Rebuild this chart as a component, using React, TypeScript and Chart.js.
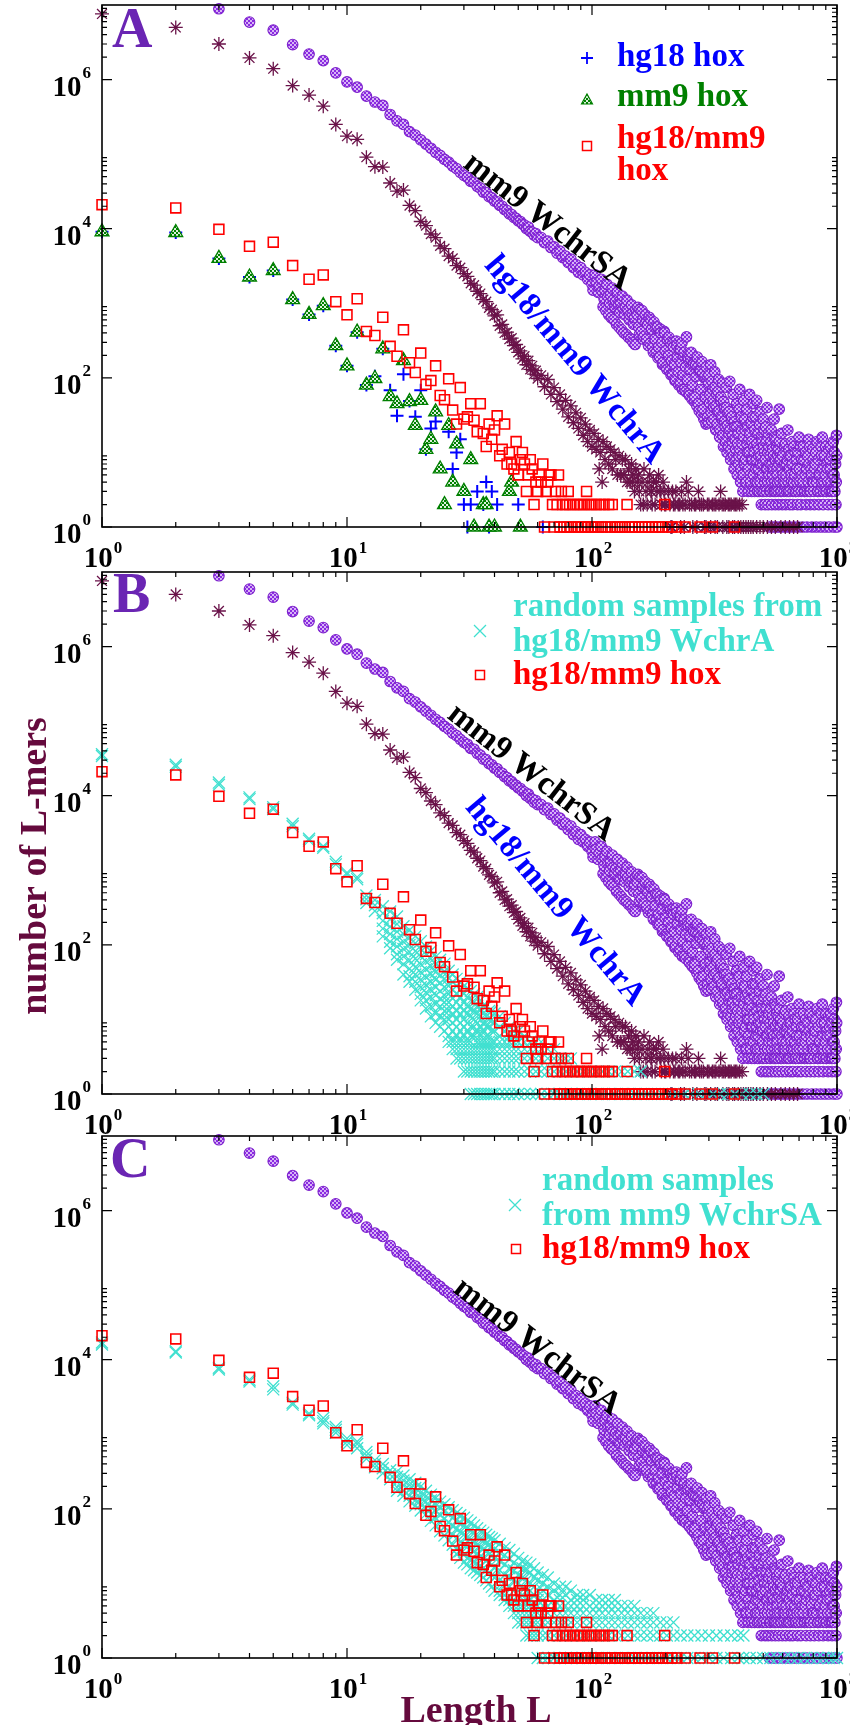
import React, { useEffect, useRef } from 'react';
import { Chart, registerables } from 'chart.js';

Chart.register(...registerables);

type Pt = [number, number];
type Col = [number, number[]];

// ---------------- axis ticks ----------------
const xTickExponents = [0, 1, 2, 3];
const yTickExponents = [0, 2, 4, 6];

// ---------------- series: [length L, number of L-mers] ----------------
const mm9WchrSA: Pt[] = [
  [3, 8.9e6], [4, 5.9e6], [5, 4.6e6], [6, 2.95e6], [7, 2.2e6], [8, 1.8e6], [9, 1.23e6], [10, 9.3e5],
  [11, 7.9e5], [12, 6.0e5], [13, 5.0e5], [14, 4.5e5], [15, 3.4e5], [16, 2.8e5], [17, 2.5e5], [18, 2.0e5],
  [19, 1.8e5], [20, 1.55e5], [21, 1.36e5], [22, 1.2e5], [23, 1.06e5], [24, 9.6e4], [25, 8.5e4], [26, 7.8e4],
  [27, 6.9e4], [28, 6.4e4], [29, 5.7e4], [30, 5.2e4], [31, 4.9e4], [32, 4.3e4], [33, 4.2e4], [34, 3.7e4],
  [35, 3.5e4], [36, 3.1e4], [37, 3.05e4], [38, 2.7e4], [39, 2.6e4], [40, 2.35e4], [41, 2.3e4], [42, 2.05e4],
  [43, 2.0e4], [44, 1.8e4], [45, 1.75e4], [46, 1.58e4], [47, 1.55e4], [48, 1.42e4], [49, 1.38e4], [50, 1.27e4],
  [51, 1.25e4], [52, 1.15e4], [53, 1.12e4], [54, 1.0e4], [55, 1.05e4], [56, 9200], [57, 9000], [58, 8200],
  [59, 8600], [60, 7600], [62, 7600], [64, 6500], [66, 6800], [68, 5600], [70, 5700], [72, 4700], [74, 5000],
  [76, 4100], [78, 4300], [80, 3500], [82, 3900], [84, 3000], [86, 3300], [88, 2600], [90, 3000], [92, 2400],
  [94, 2600], [96, 2100], [98, 2400], [100, 1800], [101, 1500], [103, 2400], [104, 1900], [106, 1400],
  [107, 1700], [109, 2100], [110, 1450], [111, 900], [112, 1150], [113, 1500], [114, 800], [115, 1800],
  [116, 1250], [117, 700], [118, 1000], [119, 1300], [120, 640], [121, 1600], [122, 1100], [123, 600],
  [124, 900], [125, 1050], [126, 520], [127, 1400], [128, 950], [129, 480], [130, 760], [131, 1000],
  [132, 440], [133, 1250], [134, 850], [135, 400], [136, 700], [137, 900], [138, 380], [139, 1100],
  [140, 800], [141, 350], [142, 600], [143, 700], [144, 330], [145, 950], [146, 720], [147, 300], [148, 520],
  [149, 640], [150, 280], [151, 820],
  [153, 700], [154, 880], [155, 480], [156, 380], [157, 820], [159, 420], [160, 800], [161, 600], [162, 330],
  [163, 360], [165, 700], [166, 560], [167, 330], [169, 520], [170, 270], [171, 650], [173, 290], [174, 600],
  [175, 450], [177, 260], [178, 220], [179, 560], [181, 330], [182, 480], [183, 220], [185, 480], [186, 185],
  [187, 260], [189, 190], [190, 450], [191, 400], [193, 300], [194, 150], [195, 160], [197, 420], [198, 400],
  [199, 230], [201, 140], [202, 130], [203, 330], [205, 200], [206, 350], [207, 125], [209, 300], [210, 110],
  [211, 170], [213, 110], [214, 300], [215, 260], [217, 150], [218, 92], [219, 95], [221, 310], [222, 270],
  [223, 190], [225, 120], [226, 80], [227, 240], [229, 85], [230, 240], [231, 160], [233, 295], [234, 70],
  [235, 110], [237, 200], [238, 220], [239, 70], [241, 140], [242, 65], [243, 355], [245, 95], [246, 200],
  [247, 180], [249, 62], [250, 58], [251, 130], [253, 180], [254, 220], [256, 52], [257, 80], [259, 160],
  [260, 150], [262, 48], [263, 55], [265, 150], [266, 105], [268, 42], [269, 190], [271, 140], [272, 45],
  [274, 36], [275, 125], [277, 125], [278, 70], [280, 33], [281, 165], [283, 115], [284, 38], [286, 28],
  [287, 100], [289, 105], [290, 55], [292, 24], [293, 140], [295, 95], [296, 30], [298, 25], [299, 85],
  [300, 110], [302, 46], [303, 60], [305, 150], [306, 35], [308, 26], [309, 90], [311, 70], [312, 50],
  [314, 40], [315, 28], [317, 120], [318, 75], [320, 20], [321, 42], [323, 60], [324, 24], [326, 35],
  [327, 65], [329, 95], [330, 36], [332, 16], [333, 20], [335, 50], [336, 55], [338, 28], [339, 30],
  [341, 85], [342, 17], [344, 12], [345, 48], [347, 40], [348, 26], [350, 22], [351, 14], [353, 75],
  [354, 40], [356, 10], [357, 23], [359, 34], [360, 12], [362, 18], [363, 35], [365, 90], [366, 20],
  [368, 8], [369, 11], [371, 28], [372, 30], [374, 14], [375, 17], [377, 60], [378, 9], [380, 6], [381, 26],
  [383, 22], [384, 15], [386, 11], [387, 8], [389, 45], [390, 22], [392, 5], [393, 13], [395, 18], [396, 7],
  [398, 9], [399, 38], [401, 70], [402, 11], [404, 4], [405, 6], [407, 30], [408, 20], [410, 13], [411, 9],
  [413, 3], [414, 5], [416, 50], [417, 16], [419, 7], [420, 28], [422, 20], [423, 8], [425, 4], [426, 4],
  [428, 38], [429, 13], [431, 10], [432, 22], [434, 3], [435, 6], [437, 15], [438, 10], [440, 60], [441, 18],
  [443, 5], [444, 4], [446, 25], [447, 8], [449, 3], [450, 14], [452, 8], [453, 30], [455, 45], [456, 5],
  [458, 12], [459, 10], [461, 3], [462, 20], [464, 30], [465, 4], [467, 6], [468, 8], [470, 50], [471, 13],
  [473, 4], [474, 3], [476, 18], [477, 6], [479, 9], [480, 11], [482, 3], [483, 24], [485, 35], [486, 4],
  [488, 7], [489, 9], [491, 2], [492, 16], [494, 14], [495, 3], [497, 5], [498, 7], [500, 28], [501, 12],
  [503, 3], [504, 20], [506, 10], [507, 4], [509, 2], [510, 8], [512, 22], [513, 14], [515, 6], [516, 3],
  [518, 40], [519, 6], [521, 4], [522, 10], [524, 2], [525, 18], [527, 12], [528, 5], [530, 1], [531, 3],
  [533, 7], [534, 9], [536, 3], [537, 14], [539, 20], [540, 4], [542, 2], [543, 7], [545, 5], [546, 11],
  [548, 1], [549, 3], [551, 9], [552, 6], [554, 28], [555, 16], [557, 3], [558, 4], [560, 2], [561, 8],
  [563, 15], [564, 3], [566, 1], [567, 12], [569, 6], [570, 5], [572, 4], [573, 9], [575, 11], [576, 3],
  [578, 2], [579, 7], [581, 38], [582, 14], [584, 1], [585, 4], [587, 8], [588, 10], [590, 3], [592, 3],
  [594, 18], [596, 6], [598, 2], [600, 9], [602, 5], [604, 4], [606, 1], [608, 3], [610, 12], [612, 7],
  [614, 4], [616, 13], [618, 2], [620, 5], [622, 7], [624, 3], [626, 1], [628, 8], [630, 20], [632, 4],
  [634, 3], [636, 11], [638, 9], [640, 6], [642, 2], [644, 3], [646, 1], [648, 9], [650, 5], [652, 4],
  [655, 14], [657, 7], [660, 2], [662, 3], [665, 4], [667, 12], [670, 1], [672, 5], [675, 10], [677, 3],
  [680, 3], [682, 8], [685, 6], [687, 4], [690, 2], [692, 10], [695, 1], [697, 3], [700, 16], [703, 6],
  [706, 4], [709, 12], [712, 2], [715, 3], [718, 8], [721, 5], [724, 1], [727, 4], [730, 12], [733, 8],
  [736, 3], [739, 3], [742, 5], [745, 10], [748, 2], [751, 6], [754, 1], [757, 3], [760, 9], [763, 4],
  [766, 15], [769, 7], [772, 3], [775, 12], [778, 2], [781, 3], [784, 6], [787, 5], [790, 1], [793, 4],
  [796, 11], [799, 8], [802, 4], [805, 3], [808, 2], [812, 6], [815, 7], [819, 10], [822, 1], [826, 4],
  [829, 14], [833, 3], [836, 3], [840, 8], [843, 2], [847, 5], [850, 5], [854, 3], [857, 1], [861, 12],
  [864, 9], [868, 4], [871, 16], [875, 6], [878, 2], [882, 3], [885, 4], [889, 9], [892, 1], [896, 5],
  [899, 12], [903, 3], [906, 3], [910, 7], [913, 6], [917, 4], [920, 2], [924, 11], [927, 1], [931, 3],
  [934, 8], [938, 6], [941, 12], [945, 4], [948, 3], [952, 9], [955, 2], [959, 3], [962, 5], [966, 14],
  [969, 1], [973, 5], [976, 10], [980, 3], [983, 4], [987, 7], [990, 2], [993, 4], [995, 17], [997, 9],
  [999, 1],
];

const hg18mm9WchrA: Pt[] = [
  [1, 7.6e6], [2, 5.0e6], [3, 3.0e6], [4, 1.95e6], [5, 1.4e6], [6, 8.3e5], [7, 6.2e5], [8, 4.4e5],
  [9, 2.5e5], [10, 1.74e5], [11, 1.58e5], [12, 9.1e4], [13, 6.8e4], [14, 6.7e4], [15, 4.1e4], [16, 3.2e4],
  [17, 3.3e4], [18, 2.05e4], [19, 1.75e4], [20, 1.25e4], [21, 1.1e4], [22, 8500], [23, 7600], [24, 5900],
  [25, 5400], [26, 4300], [27, 4000], [28, 3200], [29, 3000], [30, 2500], [31, 2300], [32, 1850], [33, 1750],
  [34, 1450], [35, 1350], [36, 1120], [37, 1050], [38, 870], [39, 820], [40, 680], [41, 700], [42, 500],
  [43, 520], [44, 400], [45, 410], [46, 330], [47, 340], [48, 270], [49, 280], [50, 220], [51, 230], [52, 180],
  [53, 195], [54, 150], [55, 170], [56, 130], [57, 145], [58, 112], [59, 125], [60, 98], [62, 108], [64, 76],
  [66, 95], [68, 60], [70, 74], [72, 48], [74, 60], [76, 38], [78, 50], [80, 30], [82, 42], [84, 25], [86, 34],
  [88, 21], [90, 29], [92, 17], [94, 24], [96, 14], [98, 20], [100, 12], [102, 18], [104, 11], [106, 15],
  [107, 6], [108, 10], [110, 4], [111, 14], [113, 8], [115, 12], [117, 7], [119, 11], [121, 6], [123, 10],
  [125, 8], [127, 5], [129, 9], [131, 5], [133, 8], [135, 5], [137, 8], [139, 4], [141, 6], [143, 4], [145, 7],
  [146, 4], [147, 5], [149, 3], [151, 6], [153, 4], [155, 5], [156, 3], [158, 2], [160, 4], [162, 2], [163, 6],
  [166, 3], [168, 2], [169, 4], [172, 5], [174, 3], [175, 3], [176, 2], [178, 4], [181, 2], [183, 4], [184, 3],
  [187, 5], [190, 3], [192, 2], [195, 4], [197, 3], [198, 2], [200, 2], [205, 3], [208, 2], [210, 1], [212, 1],
  [213, 3], [215, 2], [218, 2], [220, 3], [225, 2], [228, 2], [230, 1], [232, 3], [235, 2], [238, 1], [240, 2],
  [243, 4], [247, 3], [250, 2], [255, 2], [258, 1], [262, 2], [265, 2], [268, 1], [272, 3], [275, 2], [280, 2],
  [285, 2], [288, 1], [292, 1], [296, 2], [300, 2], [305, 1], [310, 2], [315, 2], [318, 1], [320, 2], [325, 1],
  [330, 2], [335, 3], [340, 2], [342, 1], [345, 2], [350, 2], [355, 1], [360, 2], [362, 1], [365, 2], [370, 2],
  [375, 1], [380, 2], [382, 1], [385, 2], [390, 2], [395, 1], [400, 2], [405, 1], [410, 2], [415, 1], [425, 1],
  [435, 1], [445, 1], [455, 1], [470, 1], [485, 1], [500, 1], [520, 1], [540, 1], [560, 1], [590, 1], [615, 1],
  [640, 1], [665, 1], [690, 1],
];

const hg18hox: Pt[] = [
  [1, 9100], [2, 8900], [3, 4000], [4, 2250], [5, 2750], [6, 1120], [7, 710], [8, 930], [9, 270], [10, 145],
  [11, 410], [12, 80], [13, 105], [14, 245], [15, 68], [16, 31], [17, 112], [18, 49], [19, 30], [20, 68],
  [21, 11], [22, 21], [23, 26], [26, 19], [27, 6], [28, 10], [29, 15], [30, 2], [31, 1], [32, 2], [34, 3],
  [36, 2], [37, 4], [38, 1], [39, 3], [41, 2], [50, 2], [63, 1],
];

const mm9hox: Pt[] = [
  [1, 9100], [2, 8900], [3, 4000], [4, 2250], [5, 2750], [6, 1120], [7, 710], [8, 930], [9, 270], [10, 145],
  [11, 410], [12, 80], [13, 98], [14, 245], [15, 56], [16, 45], [17, 170], [18, 48], [19, 23], [20, 50],
  [21, 11], [22, 15], [23, 35], [24, 6], [25, 2], [26, 23], [27, 4], [28, 13], [30, 3], [32, 8], [33, 1],
  [36, 2], [37, 2], [38, 1], [40, 1], [46, 3], [47, 4], [51, 1],
];

const hg18mm9hox: Pt[] = [
  [1, 21000], [2, 19000], [3, 9800], [4, 5800], [5, 6600], [6, 3200], [7, 2100], [8, 2400], [9, 1050],
  [10, 700], [11, 1150], [12, 420], [13, 370], [14, 650], [15, 265], [16, 195], [17, 440], [18, 160],
  [19, 118], [20, 215], [21, 82], [22, 92], [23, 145], [24, 58], [25, 51], [26, 97], [27, 37], [28, 24],
  [29, 74], [30, 28], [31, 30], [32, 45], [33, 27], [34, 19], [35, 45], [36, 18], [37, 12], [38, 24], [39, 15],
  [40, 20], [41, 31], [42, 9], [43, 11], [44, 24], [45, 7], [46, 10], [47, 7], [48, 6], [49, 14], [50, 5],
  [51, 8], [52, 10], [53, 7], [54, 3], [55, 5], [56, 8], [57, 6], [58, 2], [59, 4], [60, 3], [61, 5], [62, 4],
  [63, 7], [64, 1], [65, 3], [66, 4], [67, 5], [68, 5], [69, 2], [70, 1], [71, 3], [72, 2], [73, 5], [74, 1],
  [75, 3], [76, 2], [77, 1], [78, 2], [79, 1], [80, 3], [81, 2], [82, 1], [84, 2], [85, 1], [87, 2], [88, 1],
  [90, 2], [91, 1], [93, 2], [94, 1], [95, 3], [96, 1], [97, 2], [99, 1], [100, 2], [102, 1], [104, 2],
  [106, 1], [108, 2], [110, 1], [112, 2], [114, 1], [117, 2], [119, 1], [121, 2], [124, 1], [127, 1],
  [130, 1], [133, 1], [136, 1], [139, 2], [142, 1], [146, 1], [150, 1], [155, 1], [160, 1], [165, 1],
  [170, 1], [176, 1], [182, 1], [188, 1], [194, 1], [198, 2], [204, 1], [212, 1], [222, 1], [240, 1],
  [276, 1], [310, 1], [382, 1],
];

// random samples: [L, counts of the individual samples at that L]
const randomFromWchrA: Col[] = [
  [1, [36000, 34000]], [2, [26000, 24500]], [3, [15000, 14000]], [4, [9500, 9000]], [5, [7000, 6600]],
  [6, [4200, 3900]], [7, [2650, 2500]], [8, [2100, 2000]], [9, [1300, 1200]], [10, [930, 880]],
  [11, [810, 760]], [12, [460, 410, 365]], [13, [400, 340, 285]], [14, [330, 265, 210, 165, 130]],
  [15, [280, 220, 175, 140, 110, 90]], [16, [240, 190, 150, 120, 95, 75, 63]],
  [17, [178, 140, 110, 88, 70, 55, 40]], [18, [158, 125, 100, 80, 62, 48, 38, 32]],
  [19, [130, 105, 82, 65, 50, 40, 32, 25]], [20, [112, 88, 70, 55, 43, 34, 27, 22, 18]],
  [21, [95, 75, 60, 47, 37, 29, 23, 18, 14]], [22, [83, 65, 52, 41, 32, 25, 20, 15, 11]],
  [23, [69, 55, 43, 34, 27, 21, 16, 12, 9]], [24, [63, 50, 39, 31, 24, 19, 15, 11, 8]],
  [25, [56, 44, 35, 27, 21, 17, 13, 10, 7]], [26, [45, 36, 28, 22, 17, 13, 10, 8, 6, 5]],
  [27, [40, 32, 25, 19, 15, 12, 9, 7, 5, 4]], [28, [35, 28, 22, 17, 13, 10, 8, 6, 5, 4, 3]],
  [29, [32, 25, 20, 15, 12, 9, 7, 5, 4, 3]], [30, [28, 22, 17, 13, 10, 8, 6, 5, 4, 3, 2]],
  [31, [26, 20, 15, 12, 9, 7, 5, 4, 3, 2]], [32, [24, 18, 14, 11, 8, 6, 5, 4, 3, 2, 1]],
  [33, [22, 17, 13, 10, 8, 6, 4, 3, 2, 1]], [34, [20, 15, 12, 9, 7, 5, 4, 3, 2, 1]],
  [35, [18, 14, 11, 8, 6, 5, 4, 3, 2, 1]], [36, [15, 12, 9, 7, 5, 4, 3, 2, 1]],
  [37, [15, 11, 8, 6, 5, 4, 3, 2, 1]], [38, [13, 10, 8, 6, 5, 4, 3, 2, 1]],
  [39, [13, 10, 7, 5, 4, 3, 2, 1]], [40, [12, 9, 7, 5, 4, 3, 2, 1]], [42, [11, 8, 6, 5, 4, 3, 2, 1]],
  [44, [9, 7, 5, 4, 3, 2, 1]], [46, [8, 6, 5, 4, 3, 2, 1]], [48, [7, 6, 5, 4, 3, 2, 1]],
  [50, [7, 5, 4, 3, 2, 1]], [53, [6, 5, 4, 3, 2, 1]], [56, [5, 4, 3, 2, 1]], [59, [5, 4, 3, 2, 1]],
  [62, [5, 4, 3, 2, 1]], [66, [4, 3, 2, 1]], [70, [4, 3, 2, 1]], [74, [3, 2, 1]], [78, [3, 2, 1]],
  [82, [3, 2, 1]], [87, [2, 1]], [92, [2, 1]], [98, [2, 1]], [104, [2, 1]], [110, [2, 1]], [117, [2, 1]],
  [124, [2, 1]], [132, [2, 1]], [140, [2, 1]], [149, [2, 1]], [158, [2, 1]], [168, [1]], [180, [1]],
  [193, [1]], [207, [1]], [222, [1]], [238, [1]], [255, [1]], [273, [1]], [292, [1]], [312, [1]], [334, [1]],
  [358, [1]], [383, [1]], [410, [1]], [440, [1]], [470, [1]], [500, [1]],
];

const randomFromWchrSA: Col[] = [
  [1, [17000, 16000]], [2, [13000, 12500]], [3, [7800, 7400]], [4, [5400, 5100]], [5, [4400, 4000]],
  [6, [2650, 2500]], [7, [1900, 1800]], [8, [1650, 1500, 1400]], [9, [1250, 1150, 1050]],
  [10, [880, 800, 720]], [11, [800, 740, 650]], [12, [580, 520, 470]], [13, [450, 400, 360]],
  [14, [400, 350, 300]], [15, [330, 290, 250]], [16, [316, 270, 230, 195, 175]],
  [17, [280, 240, 205, 175, 150]], [18, [250, 210, 180, 150, 126]], [19, [224, 190, 160, 130, 110]],
  [20, [200, 165, 140, 115, 95]], [21, [175, 148, 125, 103, 85]], [22, [155, 130, 105, 85, 69]],
  [23, [140, 117, 95, 76, 60]], [24, [125, 103, 82, 65, 50]], [25, [115, 93, 74, 57, 44]],
  [26, [105, 85, 66, 50, 38]], [27, [96, 76, 59, 45, 33]], [28, [88, 70, 54, 40, 29, 25]],
  [29, [82, 64, 49, 36, 27, 22]], [30, [76, 59, 45, 33, 24, 19]], [31, [70, 55, 42, 31, 22, 18]],
  [32, [65, 51, 39, 29, 21, 16]], [33, [60, 47, 36, 27, 20, 15]], [34, [55, 43, 33, 25, 18, 14]],
  [35, [51, 40, 31, 23, 17, 13]], [36, [48, 37, 29, 22, 16, 12]], [37, [45, 35, 27, 20, 15, 11]],
  [38, [42, 33, 25, 19, 14, 10]], [39, [40, 31, 24, 18, 13, 9]], [40, [38, 29, 22, 16, 12, 8]],
  [42, [34, 26, 20, 15, 11, 8, 7]], [44, [30, 24, 18, 13, 10, 7, 6]], [46, [28, 21, 16, 12, 9, 6, 5]],
  [48, [25, 19, 15, 11, 8, 6, 5, 4]], [50, [22, 17, 13, 10, 7, 5, 4, 3]], [52, [20, 16, 12, 9, 7, 5, 4, 3]],
  [54, [19, 15, 11, 8, 6, 5, 4, 3, 2]], [56, [18, 14, 10, 8, 6, 5, 4, 3, 2]], [58, [16, 12, 9, 7, 5, 4, 3, 2]],
  [60, [14, 11, 8, 6, 5, 4, 3, 2, 1]], [63, [13, 10, 8, 6, 5, 4, 3, 2, 1]], [66, [12, 9, 7, 5, 4, 3, 2, 1]],
  [70, [10, 8, 6, 5, 4, 3, 2, 1]], [74, [9, 7, 6, 5, 4, 3, 2, 1]], [78, [9, 7, 5, 4, 3, 2, 1]],
  [82, [8, 6, 5, 4, 3, 2, 1]], [87, [7, 6, 5, 4, 3, 2, 1]], [92, [7, 6, 5, 4, 3, 2, 1]],
  [98, [7, 5, 4, 3, 2, 1]], [104, [6, 5, 4, 3, 2, 1]], [110, [6, 5, 4, 3, 2, 1]], [117, [6, 5, 4, 3, 2, 1]],
  [124, [6, 5, 4, 3, 2, 1]], [132, [5, 4, 3, 2, 1]], [140, [5, 4, 3, 2, 1]], [149, [5, 4, 3, 2, 1]],
  [158, [4, 3, 2, 1]], [168, [4, 3, 2, 1]], [178, [4, 3, 2, 1]], [190, [3, 2, 1]], [202, [3, 2, 1]],
  [215, [3, 2, 1]], [230, [2, 1]], [245, [2, 1]], [262, [2, 1]], [280, [2, 1]], [300, [2, 1]], [322, [2, 1]],
  [345, [2, 1]], [370, [2, 1]], [395, [2, 1]], [415, [2, 1]], [440, [1]], [470, [1]], [500, [1]], [535, [1]],
  [570, [1]], [610, [1]], [650, [1]], [690, [1]], [735, [1]], [780, [1]], [830, [1]], [880, [1]], [930, [1]],
  [970, [1]], [1000, [1]],
];

// ---------------- layout ----------------
const W = 850;
const H = 1725;
const PLOT_LEFT = 102;
const PLOT_RIGHT = 837;
const PANEL_TOPS = [5, 572, 1136];
const PANEL_H = 522;
const FONT = '"Liberation Serif", "Times New Roman", serif';

const C_PURPLE = '#8a2be2';
const C_PURPLE_EDGE = '#7d22cc';
const C_MAROON = '#6a1249';
const C_BLUE = '#0000ff';
const C_GREEN = '#008000';
const C_RED = '#ff0000';
const C_TURQ = '#40e0d0';
const C_LETTER = '#6a25b3';
const C_TITLE = '#650a3d';

function checker(c1: string, c2: string, size: number) {
  const cv = document.createElement('canvas');
  cv.width = size * 2;
  cv.height = size * 2;
  const g = cv.getContext('2d')!;
  g.fillStyle = c2;
  g.fillRect(0, 0, size * 2, size * 2);
  g.fillStyle = c1;
  g.fillRect(0, 0, size, size);
  g.fillRect(size, size, size, size);
  return g.createPattern(cv, 'repeat')!;
}

const pts = (arr: Pt[]) => arr.map(([x, y]) => ({ x, y }));
const cols = (arr: Col[]) => arr.flatMap(([x, ys]) => ys.map((y) => ({ x, y })));

// legend marker helpers (legend only, not data)
function mkPlus(ctx: CanvasRenderingContext2D, x: number, y: number) {
  ctx.strokeStyle = C_BLUE; ctx.lineWidth = 1.8;
  ctx.beginPath(); ctx.moveTo(x - 6, y); ctx.lineTo(x + 6, y); ctx.moveTo(x, y - 6); ctx.lineTo(x, y + 6); ctx.stroke();
}
function mkTri(ctx: CanvasRenderingContext2D, x: number, y: number, pat: CanvasPattern) {
  ctx.fillStyle = pat; ctx.strokeStyle = C_GREEN; ctx.lineWidth = 1.2;
  ctx.beginPath(); ctx.moveTo(x, y - 6); ctx.lineTo(x + 5.5, y + 4); ctx.lineTo(x - 5.5, y + 4); ctx.closePath(); ctx.fill(); ctx.stroke();
}
function mkSq(ctx: CanvasRenderingContext2D, x: number, y: number) {
  ctx.strokeStyle = C_RED; ctx.lineWidth = 1.5;
  ctx.strokeRect(x - 4.5, y - 4.5, 9, 9);
}
function mkX(ctx: CanvasRenderingContext2D, x: number, y: number) {
  ctx.strokeStyle = C_TURQ; ctx.lineWidth = 1.3;
  ctx.beginPath(); ctx.moveTo(x - 6, y - 6); ctx.lineTo(x + 6, y + 6); ctx.moveTo(x + 6, y - 6); ctx.lineTo(x - 6, y + 6); ctx.stroke();
}

function text(ctx: CanvasRenderingContext2D, s: string, x: number, y: number, color: string, size: number, align: CanvasTextAlign = 'left') {
  ctx.font = `bold ${size}px ${FONT}`;
  ctx.fillStyle = color;
  ctx.textAlign = align;
  ctx.textBaseline = 'alphabetic';
  ctx.fillText(s, x, y);
}

function rotText(ctx: CanvasRenderingContext2D, s: string, cx: number, cy: number, deg: number, color: string, size: number) {
  ctx.save();
  ctx.translate(cx, cy);
  ctx.rotate((deg * Math.PI) / 180);
  ctx.font = `bold ${size}px ${FONT}`;
  ctx.fillStyle = color;
  ctx.textAlign = 'center';
  ctx.textBaseline = 'middle';
  ctx.fillText(s, 0, 0);
  ctx.restore();
}

function drawPow(ctx: CanvasRenderingContext2D, exp: number, x: number, baseBig: number, baseSmall: number, mode: 'right' | 'center') {
  ctx.fillStyle = '#000';
  ctx.textBaseline = 'alphabetic';
  ctx.textAlign = 'left';
  ctx.font = `bold 29px ${FONT}`;
  const wBig = ctx.measureText('10').width;
  ctx.font = `bold 17px ${FONT}`;
  const wSmall = ctx.measureText(String(exp)).width;
  const start = mode === 'right' ? x - wBig - wSmall - 1 : x - (wBig + wSmall + 1) / 2;
  ctx.font = `bold 29px ${FONT}`;
  ctx.fillText('10', start, baseBig);
  ctx.font = `bold 17px ${FONT}`;
  ctx.fillText(String(exp), start + wBig + 1, baseSmall);
}

function framePlugin(id: string) {
  return {
    id,
    afterDraw(chart: any) {
      const ctx: CanvasRenderingContext2D = chart.ctx;
      const { left, right, top, bottom } = chart.chartArea;
      const xs = chart.scales.x;
      const ys = chart.scales.y;
      ctx.save();
      ctx.strokeStyle = '#000';
      ctx.lineWidth = 1.6;
      ctx.strokeRect(left, top, right - left, bottom - top);
      ctx.lineWidth = 1.2;
      ctx.beginPath();
      for (const e of xTickExponents) {
        for (let m = 1; m <= 9; m++) {
          const v = m * Math.pow(10, e);
          if (v > 1000) break;
          const px = xs.getPixelForValue(v);
          const len = m === 1 ? 10 : 5;
          ctx.moveTo(px, bottom); ctx.lineTo(px, bottom - len);
          ctx.moveTo(px, top); ctx.lineTo(px, top + len);
        }
      }
      for (const e of yTickExponents) {
        for (let m = 1; m <= 9; m++) {
          const v = m * Math.pow(10, e);
          const py = ys.getPixelForValue(v);
          const len = m === 1 ? 10 : 5;
          ctx.moveTo(left, py); ctx.lineTo(left + len, py);
          ctx.moveTo(right, py); ctx.lineTo(right - len, py);
        }
      }
      ctx.stroke();
      for (const e of yTickExponents) {
        const py = ys.getPixelForValue(Math.pow(10, e));
        drawPow(ctx, e, left - 11, py + 16, py - 2, 'right');
      }
      for (const e of xTickExponents) {
        const px = xs.getPixelForValue(Math.pow(10, e));
        drawPow(ctx, e, px + 1, bottom + 40, bottom + 26, 'center');
      }
      ctx.restore();
    },
  };
}

function decoPlugin(id: string, draw: (ctx: CanvasRenderingContext2D) => void) {
  return {
    id,
    afterDatasetsDraw(chart: any) {
      const ctx: CanvasRenderingContext2D = chart.ctx;
      ctx.save();
      draw(ctx);
      ctx.restore();
    },
  };
}

function makePanel(canvas: HTMLCanvasElement, idx: number, datasets: any[], plugins: any[]) {
  const top = PANEL_TOPS[idx];
  const bottom = top + PANEL_H;
  return new Chart(canvas, {
    type: 'scatter',
    data: { datasets },
    options: {
      animation: false,
      responsive: false,
      devicePixelRatio: 1,
      events: [],
      layout: { autoPadding: false, padding: { top, left: 0, right: W - PLOT_RIGHT, bottom: 0 } },
      plugins: { legend: { display: false }, tooltip: { enabled: false } },
      scales: {
        x: {
          type: 'logarithmic', min: 1, max: 1000,
          ticks: { display: false }, grid: { display: false }, border: { display: false },
          afterFit: (s: any) => { s.height = H - bottom; },
        },
        y: {
          type: 'logarithmic', min: 1, max: 1e7,
          ticks: { display: false }, grid: { display: false }, border: { display: false },
          afterFit: (s: any) => { s.width = PLOT_LEFT; },
        },
      },
    } as any,
    plugins,
  });
}

export default function App() {
  const refA = useRef<HTMLCanvasElement>(null);
  const refB = useRef<HTMLCanvasElement>(null);
  const refC = useRef<HTMLCanvasElement>(null);

  useEffect(() => {
    const purplePat = checker(C_PURPLE, '#d8b4f6', 2);
    const greenPat = checker(C_GREEN, '#dff2df', 2);

    const dsPurple = () => ({
      label: 'mm9 WchrSA', data: pts(mm9WchrSA), pointStyle: 'circle', pointRadius: 5.3,
      pointBorderWidth: 1.1, pointBorderColor: C_PURPLE_EDGE, pointBackgroundColor: purplePat, showLine: false, clip: false,
    });
    const dsMaroon = () => ({
      label: 'hg18/mm9 WchrA', data: pts(hg18mm9WchrA), pointStyle: 'star', pointRadius: 7,
      pointBorderWidth: 1.3, pointBorderColor: C_MAROON, pointBackgroundColor: C_MAROON, showLine: false, clip: false,
    });
    const dsRed = () => ({
      label: 'hg18/mm9 hox', data: pts(hg18mm9hox), pointStyle: 'rect', pointRadius: 7,
      pointBorderWidth: 1.6, pointBorderColor: C_RED, pointBackgroundColor: 'rgba(0,0,0,0)', showLine: false, clip: false,
    });
    const dsBlue = {
      label: 'hg18 hox', data: pts(hg18hox), pointStyle: 'cross', pointRadius: 6.5,
      pointBorderWidth: 2, pointBorderColor: C_BLUE, showLine: false, clip: false,
    };
    const dsGreen = {
      label: 'mm9 hox', data: pts(mm9hox), pointStyle: 'triangle', pointRadius: 8,
      pointBorderWidth: 1.3, pointBorderColor: C_GREEN, pointBackgroundColor: greenPat, showLine: false, clip: false,
    };
    const dsTurqA = {
      label: 'random samples from hg18/mm9 WchrA', data: cols(randomFromWchrA), pointStyle: 'crossRot', pointRadius: 8.5,
      pointBorderWidth: 1.3, pointBorderColor: C_TURQ, showLine: false, clip: false,
    };
    const dsTurqSA = {
      label: 'random samples from mm9 WchrSA', data: cols(randomFromWchrSA), pointStyle: 'crossRot', pointRadius: 8.5,
      pointBorderWidth: 1.3, pointBorderColor: C_TURQ, showLine: false, clip: false,
    };

    const charts: Chart[] = [];

    charts.push(makePanel(refA.current!, 0, [dsRed(), dsGreen, dsBlue, dsMaroon(), dsPurple()], [
      decoPlugin('decoA', (ctx) => {
        text(ctx, 'A', 112, 47, C_LETTER, 56);
        rotText(ctx, 'mm9 WchrSA', 547, 222, 38, '#000', 33);
        rotText(ctx, 'hg18/mm9 WchrA', 574, 360, 50, C_BLUE, 33);
        mkPlus(ctx, 587, 58);
        text(ctx, 'hg18 hox', 617, 66, C_BLUE, 33);
        mkTri(ctx, 587, 100, greenPat);
        text(ctx, 'mm9 hox', 617, 106, C_GREEN, 33);
        mkSq(ctx, 587, 146);
        text(ctx, 'hg18/mm9', 617, 148, C_RED, 33);
        text(ctx, 'hox', 617, 180, C_RED, 33);
      }),
      framePlugin('frameA'),
    ]));

    charts.push(makePanel(refB.current!, 1, [dsRed(), dsTurqA, dsMaroon(), dsPurple()], [
      decoPlugin('decoB', (ctx) => {
        text(ctx, 'B', 113, 612, C_LETTER, 56);
        rotText(ctx, 'mm9 WchrSA', 531, 773, 38, '#000', 33);
        rotText(ctx, 'hg18/mm9 WchrA', 555, 902, 50, C_BLUE, 33);
        mkX(ctx, 480, 631);
        text(ctx, 'random samples from', 513, 616, C_TURQ, 33);
        text(ctx, 'hg18/mm9 WchrA', 513, 651, C_TURQ, 33);
        mkSq(ctx, 480, 675);
        text(ctx, 'hg18/mm9 hox', 513, 684, C_RED, 33);
      }),
      framePlugin('frameB'),
    ]));

    charts.push(makePanel(refC.current!, 2, [dsRed(), dsTurqSA, dsPurple()], [
      decoPlugin('decoC', (ctx) => {
        text(ctx, 'C', 110, 1177, C_LETTER, 56);
        rotText(ctx, 'mm9 WchrSA', 537, 1347, 38, '#000', 33);
        mkX(ctx, 515, 1205);
        text(ctx, 'random samples', 542, 1190, C_TURQ, 33);
        text(ctx, 'from mm9 WchrSA', 542, 1225, C_TURQ, 33);
        mkSq(ctx, 516, 1249);
        text(ctx, 'hg18/mm9 hox', 542, 1258, C_RED, 33);
        text(ctx, 'Length L', 476, 1722, C_TITLE, 38, 'center');
        ctx.save();
        ctx.translate(46, 866);
        ctx.rotate(-Math.PI / 2);
        text(ctx, 'number of L-mers', 0, 0, C_TITLE, 38, 'center');
        ctx.restore();
      }),
      framePlugin('frameC'),
    ]));

    return () => charts.forEach((c) => c.destroy());
  }, []);

  const cs: React.CSSProperties = { position: 'absolute', left: 0, top: 0, width: W, height: H };
  return (
    <div style={{ position: 'absolute', left: 0, top: 0, width: W, height: H, background: '#fff', overflow: 'hidden' }}>
      <canvas ref={refA} width={W} height={H} style={cs} />
      <canvas ref={refB} width={W} height={H} style={cs} />
      <canvas ref={refC} width={W} height={H} style={cs} />
    </div>
  );
}
